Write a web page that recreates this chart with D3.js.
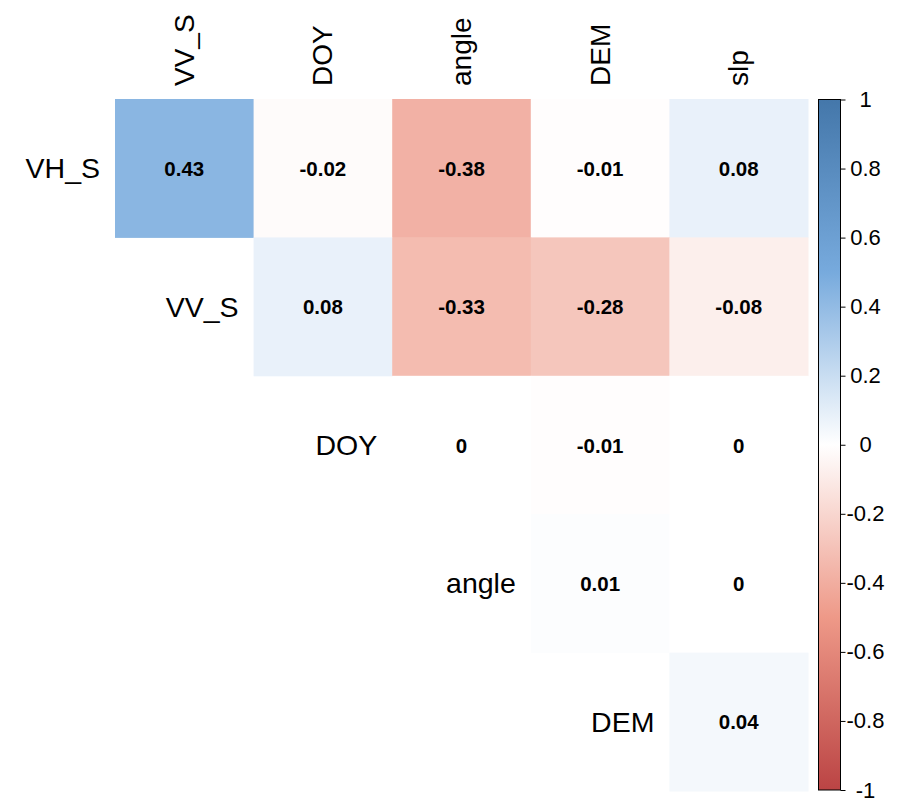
<!DOCTYPE html>
<html>
<head>
<meta charset="utf-8">
<script src="https://cdn.jsdelivr.net/npm/d3@7"></script>
<style>
  html, body { margin: 0; padding: 0; background: #ffffff; }
  svg { display: block; font-family: "Liberation Sans", Arial, sans-serif; }
</style>
</head>
<body>
<svg id="chart" width="897" height="803"></svg>
<script>
// Variables in the correlation matrix (upper triangle, no diagonal)
const rowVars = ["VH_S", "VV_S", "DOY", "angle", "DEM"];
const colVars = ["VV_S", "DOY", "angle", "DEM", "slp"];

// Correlation coefficients per row, one entry per column in colVars (null = lower triangle)
const vhS   = [0.43, -0.02, -0.38, -0.01, 0.08];
const vvS   = [null, 0.08, -0.33, -0.28, -0.08];
const doy   = [null, null, 0, -0.01, 0];
const angle = [null, null, null, 0.01, 0];
const dem   = [null, null, null, null, 0.04];
const rowValues = [vhS, vvS, doy, angle, dem];

// Colour legend ticks
const legendTicks = [1, 0.8, 0.6, 0.4, 0.2, 0, -0.2, -0.4, -0.6, -0.8, -1];

// Diverging palette
const palStops = [-1, -0.5, 0, 0.5, 1];
const palColors = ["#BB4444", "#EE9988", "#FFFFFF", "#77AADD", "#4477AA"];

const svg = d3.select("#chart");

const x = d3.scaleBand().domain(colVars).range([115, 808]).paddingInner(0).paddingOuter(0);
const y = d3.scaleBand().domain(rowVars).range([99, 791]).paddingInner(0).paddingOuter(0);
const color = d3.scaleLinear().domain(palStops).range(palColors).interpolate(d3.interpolateRgb);

const cells = [];
rowValues.forEach((vals, i) => {
  vals.forEach((v, j) => {
    if (v !== null) cells.push({ row: rowVars[i], col: colVars[j], value: v });
  });
});

// Tiles
svg.append("g").selectAll("rect")
  .data(cells)
  .join("rect")
  .attr("x", d => x(d.col))
  .attr("y", d => y(d.row))
  .attr("width", x.bandwidth() + 0.5)
  .attr("height", y.bandwidth() + 0.5)
  .attr("fill", d => color(d.value));

// Coefficient labels
const fmt = v => (v === 0 ? "0" : d3.format(".2f")(v).replace("−", "-"));
svg.append("g").selectAll("text")
  .data(cells)
  .join("text")
  .attr("x", d => x(d.col) + x.bandwidth() / 2)
  .attr("y", d => y(d.row) + y.bandwidth() / 2)
  .attr("text-anchor", "middle")
  .attr("dominant-baseline", "central")
  .attr("font-size", 20.5)
  .attr("font-weight", "bold")
  .attr("fill", "#000")
  .text(d => fmt(d.value));

// Row labels: sit just left of the first tile in each row
svg.append("g").selectAll("text")
  .data(rowVars)
  .join("text")
  .attr("x", (d, i) => x(colVars[i]) - 15)
  .attr("y", d => y(d) + y.bandwidth() / 2)
  .attr("text-anchor", "end")
  .attr("dominant-baseline", "central")
  .attr("font-size", 28.5)
  .attr("fill", "#000")
  .text(d => d);

// Column labels, rotated
svg.append("g").selectAll("text")
  .data(colVars)
  .join("text")
  .attr("transform", d => `translate(${x(d) + x.bandwidth() / 2},86) rotate(-90)`)
  .attr("text-anchor", "start")
  .attr("dominant-baseline", "central")
  .attr("font-size", 28)
  .attr("fill", "#000")
  .text(d => d);

// Colour bar
const ly = d3.scaleLinear().domain([-1, 1]).range([790, 99.5]);
const defs = svg.append("defs");
const grad = defs.append("linearGradient")
  .attr("id", "legendGrad")
  .attr("x1", 0).attr("y1", 1).attr("x2", 0).attr("y2", 0);
palStops.forEach((s, i) => {
  grad.append("stop")
    .attr("offset", (s + 1) / 2)
    .attr("stop-color", palColors[i]);
});

const barX = 818.5, barW = 22;
svg.append("rect")
  .attr("x", barX)
  .attr("y", ly(1))
  .attr("width", barW)
  .attr("height", ly(-1) - ly(1))
  .attr("fill", "url(#legendGrad)")
  .attr("stroke", "#000")
  .attr("stroke-width", 1);

const legendAxis = d3.axisRight(ly)
  .tickValues(legendTicks)
  .tickSize(5)
  .tickPadding(20)
  .tickFormat(d => (d === 0 ? "0" : d3.format("")(d).replace("−", "-")));

const lg = svg.append("g")
  .attr("transform", `translate(${barX + barW},0)`)
  .call(legendAxis);
lg.select(".domain").remove();
lg.selectAll(".tick line").attr("stroke", "#000");
lg.selectAll(".tick text")
  .attr("x", 25)
  .attr("text-anchor", "middle")
  .attr("font-size", 22)
  .attr("font-family", "'Liberation Sans', Arial, sans-serif")
  .attr("fill", "#000");
</script>
</body>
</html>
